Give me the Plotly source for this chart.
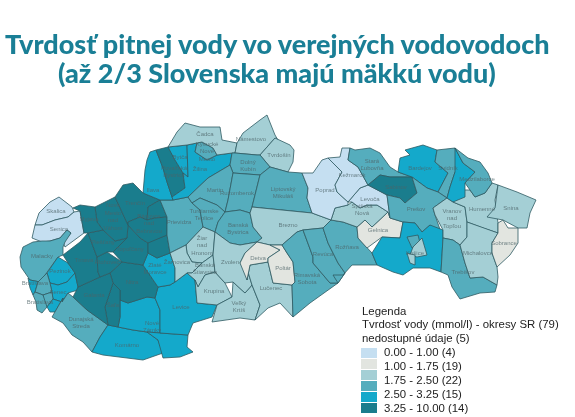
import plotly.graph_objects as go

# triedy tvrdosti: 0 = nedostupne, 1 = 0-1, 2 = 1-1.75, 3 = 1.75-2.5, 4 = 2.5-3.25, 5 = 3.25-10
FARBY = {0: '#E2E5E0', 1: '#C5DFF1', 2: '#A4CFD5', 3: '#55ADBD', 4: '#14A9CB', 5: '#1A7D8D'}
CIARA = '#2F5A62'

LEGENDA_FARBY = ['#C5DFF1', '#E2E5E0', '#A4CFD5', '#55ADBD', '#14A9CB', '#1A7D8D']
LEGENDA_TEXTY = ['0.00 - 1.00 (4)', '1.00 - 1.75 (19)', '1.75 - 2.50 (22)',
                 '2.50 - 3.25 (15)', '3.25 - 10.00 (14)']

okresy = [
    'Skalica', 'Senica', 'Malacky', 'Pezinok', 'Senec', 'Bratislava I', 'Bratislava II', 'Bratislava III',
    'Bratislava IV', 'Bratislava V', 'Dunajská Streda', 'Komárno', 'Nové Zámky', 'Štúrovo', 'Levice',
    'Nitra', 'Zlaté Moravce', 'Šaľa', 'Galanta', 'Trnava', 'Hlohovec', 'Piešťany', 'Topoľčany',
    'Partizánske', 'Nové Mesto', 'Myjava', 'Trenčín', 'Ilava', 'Bánovce', 'Prievidza', 'Púchov',
    'Považská Bystrica', 'Bytča', 'Žilina', 'Kysucké', 'Čadca', 'Námestovo', 'Tvrdošín', 'Dolný Kubín',
    'Martin', 'Turčianske Teplice', 'Ružomberok', 'Liptovský Mikuláš', 'Banská Bystrica', 'Brezno',
    'Žiar', 'Žarnovica', 'Štiavnica', 'Krupina', 'Veľký Krtíš', 'Zvolen', 'Lučenec', 'Detva', 'Poltár',
    'Rimavská Sobota', 'Revúca', 'Rožňava', 'Gelnica', 'Spišská Nová Ves', 'Levoča', 'Poprad', 'Kežmarok',
    'Stará Ľubovňa', 'Sabinov', 'Bardejov', 'Svidník', 'Prešov', 'Košice okolie', 'Košice I', 'Košice II',
    'Košice III', 'Vranov', 'Humenné', 'Stropkov', 'Medzilaborce', 'Snina', 'Trebišov', 'Michalovce', 'Sobrance',
]
triedy = [
    1, 1, 3, 4, 4, 4, 3, 3,
    3, 4, 3, 4, 4, 4, 4,
    5, 4, 5, 5, 5, 5, 5, 5,
    5, 5, 5, 5, 5, 5, 3, 4,
    5, 4, 4, 3, 2, 2, 2, 3,
    3, 3, 3, 3, 3, 2,
    2, 2, 2, 2, 2, 2, 2, 0, 0,
    3, 3, 3, 0, 2, 1, 1, 1,
    3, 5, 4, 3, 3, 4, 3, 2,
    2, 2, 2, 4, 3, 2, 3, 2, 0,
]
hranice = [
    [(59,197),(72,207),(74,212),(68,217),(55,220),(42,225),(35,225),(39,213),(50,202)],
    [(35,225),(42,225),(55,220),(68,217),(74,212),(80,211),(84,233),(75,240),(65,247),(63,242),(71,233),(67,230),(60,238),(50,241),(42,242),(32,238)],
    [(23,247),(33,242),(42,241),(50,241),(60,238),(67,230),(71,233),(65,242),(63,247),(63,255),(58,257),(47,273),(40,282),(30,280),(21,267),(20,257)],
    [(47,273),(58,257),(68,263),(75,273),(67,282),(58,285),(50,283)],
    [(50,283),(58,285),(67,282),(75,273),(78,287),(78,290),(68,293),(62,302),(53,299),(52,292)],
    [(28,278),(30,280),(40,282),(38,282),(35,292),(33,295),(30,288)],
    [(38,282),(47,273),(50,283),(52,292),(43,295),(35,292)],
    [(43,295),(52,292),(53,299),(47,307),(43,305)],
    [(36,302),(33,295),(35,292),(43,295),(47,307),(42,313),(37,310)],
    [(47,307),(53,299),(62,302),(63,298),(55,312),(50,312)],
    [(52,317),(55,312),(63,298),(62,302),(68,293),(73,297),(87,310),(108,325),(100,337),(92,352),(83,342),(72,335),(63,323)],
    [(108,325),(118,327),(133,330),(147,332),(158,340),(163,353),(143,360),(127,358),(103,355),(92,352),(100,337)],
    [(120,300),(128,303),(147,297),(155,298),(160,310),(160,333),(147,332),(133,330),(118,327),(120,317)],
    [(147,332),(160,333),(188,335),(187,347),(193,352),(180,357),(163,358),(158,340)],
    [(155,298),(158,287),(170,285),(175,282),(187,273),(195,280),(197,303),(217,305),(212,317),(193,323),(188,335),(160,333),(160,310)],
    [(110,273),(122,262),(143,265),(158,287),(155,298),(147,297),(128,303),(120,300),(120,290),(113,283)],
    [(143,265),(148,253),(157,258),(170,253),(175,268),(175,282),(170,285),(158,287)],
    [(105,307),(113,283),(120,290),(120,300),(120,317),(118,327),(108,325)],
    [(73,297),(78,287),(100,277),(110,273),(113,283),(105,307),(108,325),(87,310)],
    [(63,255),(80,242),(88,233),(97,257),(98,272),(100,277),(78,287),(75,273),(68,263)],
    [(98,272),(97,257),(107,252),(122,262),(110,273),(100,277)],
    [(88,233),(103,230),(115,241),(127,238),(113,252),(107,252),(97,257)],
    [(113,252),(127,238),(128,225),(140,238),(148,243),(148,253),(143,265),(122,262)],
    [(148,242),(167,235),(170,253),(157,258),(148,253)],
    [(95,207),(115,197),(128,225),(127,238),(115,241),(103,230),(97,222)],
    [(73,208),(80,205),(95,207),(97,222),(103,230),(88,233),(84,233),(80,211)],
    [(115,197),(123,185),(133,183),(143,193),(160,200),(148,207),(147,220),(140,217),(128,222),(128,225)],
    [(148,207),(160,200),(167,217),(155,218),(147,220)],
    [(128,222),(140,217),(147,220),(155,218),(167,217),(167,235),(148,243),(140,238),(128,225)],
    [(160,200),(173,200),(188,197),(192,203),(200,210),(203,227),(186,245),(170,253),(167,235),(167,217)],
    [(143,193),(145,170),(147,160),(150,152),(156,150),(163,168),(167,182),(172,197),(173,200),(160,200)],
    [(156,150),(168,147),(175,160),(183,173),(185,188),(172,197),(167,182),(163,168)],
    [(168,147),(187,145),(188,177),(183,173),(175,160)],
    [(187,145),(197,143),(195,152),(207,160),(217,155),(232,153),(230,165),(208,178),(188,197),(173,200),(172,197),(185,188),(183,173),(188,177)],
    [(197,143),(202,142),(213,148),(217,155),(207,160),(195,152)],
    [(168,147),(177,132),(185,123),(200,127),(220,127),(222,140),(237,143),(235,153),(232,153),(217,155),(213,148),(202,142),(197,143),(187,145)],
    [(237,143),(243,133),(260,120),(267,115),(275,135),(278,140),(275,138),(260,155),(257,155),(235,153)],
    [(260,155),(275,138),(290,145),(294,150),(293,162),(288,172),(270,167)],
    [(232,153),(235,153),(257,155),(260,155),(270,167),(260,175),(233,173),(230,165)],
    [(188,197),(208,178),(230,165),(233,173),(228,200),(225,212),(217,205),(200,198),(192,203)],
    [(192,203),(200,198),(217,205),(225,212),(218,222),(215,232),(203,227),(200,210)],
    [(233,173),(260,175),(252,207),(250,213),(240,210),(225,212),(228,200)],
    [(260,175),(270,167),(288,172),(302,173),(308,188),(307,198),(312,213),(283,210),(252,207)],
    [(218,222),(225,212),(240,210),(250,213),(253,227),(262,238),(257,242),(240,245),(230,243),(215,232)],
    [(252,207),(283,210),(312,213),(331,220),(323,228),(303,230),(297,232),(282,245),(270,245),(257,242),(262,238),(253,227),(250,213)],
    [(186,245),(203,227),(215,232),(213,255),(202,263),(192,262),(187,253)],
    [(170,253),(186,245),(187,253),(192,262),(202,263),(192,273),(187,273),(175,282),(175,268)],
    [(187,273),(192,273),(202,263),(213,255),(215,272),(205,275),(198,287),(195,280)],
    [(195,280),(198,287),(205,275),(215,272),(225,283),(232,297),(217,305),(197,303)],
    [(232,297),(233,282),(245,293),(252,285),(260,305),(255,320),(240,318),(225,320),(212,322),(217,305)],
    [(215,232),(230,243),(240,245),(257,242),(245,253),(240,263),(248,272),(252,285),(245,293),(233,282),(225,283),(215,272),(213,255)],
    [(248,272),(247,280),(250,265),(268,262),(273,283),(292,285),(293,317),(280,303),(268,308),(255,320),(260,305),(252,285)],
    [(245,253),(257,242),(270,245),(280,250),(268,258),(268,262),(250,265),(247,280),(240,263)],
    [(270,245),(282,245),(287,253),(293,262),(295,282),(292,285),(273,283),(268,262),(268,258),(280,250)],
    [(282,245),(297,232),(303,230),(313,257),(313,263),(330,283),(338,283),(310,303),(293,317),(292,285),(295,282),(293,262),(287,253)],
    [(303,230),(323,228),(328,243),(338,263),(345,273),(338,283),(330,283),(313,263),(313,257)],
    [(323,228),(331,220),(343,222),(357,227),(358,238),(367,248),(372,253),(377,265),(352,265),(343,275),(333,275),(338,283),(345,273),(338,263),(328,243)],
    [(357,227),(365,220),(372,227),(388,212),(390,218),(403,222),(400,238),(382,237),(367,248),(358,238)],
    [(331,220),(335,208),(348,205),(352,202),(360,208),(367,205),(377,205),(388,212),(372,227),(365,220),(357,227),(343,222)],
    [(348,202),(360,188),(368,185),(387,195),(390,218),(388,212),(377,205),(367,205),(360,208),(352,202)],
    [(302,173),(313,173),(322,160),(328,158),(342,172),(335,185),(337,192),(348,202),(348,205),(335,208),(331,220),(312,213),(307,198),(308,188)],
    [(328,158),(340,157),(342,148),(350,148),(348,160),(358,167),(368,185),(360,188),(348,202),(337,192),(335,185),(342,172)],
    [(348,160),(350,148),(355,150),(370,148),(380,153),(390,167),(398,172),(412,177),(390,177),(380,175),(368,185),(358,167)],
    [(368,185),(380,175),(390,177),(412,177),(417,193),(405,203),(400,198),(387,195)],
    [(398,172),(400,158),(410,155),(405,150),(423,145),(437,150),(435,162),(448,173),(438,192),(427,188),(412,177)],
    [(437,150),(455,148),(463,163),(455,172),(450,187),(447,198),(438,192),(448,173),(435,162)],
    [(387,195),(400,198),(405,203),(417,193),(412,177),(427,188),(438,192),(447,198),(433,208),(435,215),(443,238),(430,225),(422,232),(415,223),(403,222),(390,218)],
    [(372,253),(382,237),(400,238),(403,222),(415,223),(422,232),(430,225),(443,230),(443,238),(441,272),(430,268),(413,268),(403,275),(393,272),(377,265)],
    [(407,237),(418,235),(420,243),(412,248)],
    [(413,247),(422,238),(427,255),(417,257),(410,255)],
    [(407,253),(415,255),(415,265),(410,263)],
    [(433,208),(447,198),(453,202),(465,207),(467,222),(467,237),(460,245),(453,240),(443,238),(443,230),(435,215)],
    [(453,202),(465,190),(470,190),(475,197),(485,193),(492,183),(498,185),(495,200),(498,223),(498,233),(483,228),(467,222),(465,207)],
    [(455,148),(463,163),(475,172),(465,183),(465,197),(453,202),(447,198),(450,187),(455,172)],
    [(455,148),(468,158),(480,162),(488,173),(492,183),(485,193),(475,197),(470,190),(465,183),(475,172),(463,163)],
    [(498,185),(517,192),(536,200),(530,213),(527,228),(518,228),(503,220),(487,217),(495,208),(497,195)],
    [(443,238),(453,240),(460,245),(465,263),(470,278),(483,277),(497,285),(495,292),(480,293),(460,299),(452,287),(448,275),(441,272)],
    [(467,222),(483,228),(498,233),(492,243),(492,253),(497,267),(498,277),(497,285),(483,277),(470,278),(465,263),(460,245),(467,237)],
    [(498,223),(503,220),(508,228),(518,228),(518,243),(510,255),(497,267),(492,253),(492,243),(498,233)],
]

# popisy okresov v mape
popisy = ['Skalica', 'Senica', 'Malacky', 'Pezinok', 'Senec', 'Bratislava', 'Bratislava', 'Myjava',
          'Nové<br>Mesto<br>nad<br>Váhom', 'Trenčín', 'Bánovce<br>nad<br>Bebravou', 'Prievidza', 'Piešťany',
          'Topoľčany', 'Trnava', 'Hlohovec', 'Zlaté<br>Moravce', 'Nitra', 'Galanta', 'Šaľa', 'Levice',
          'Nové<br>Zámky', 'Dunajská<br>Streda', 'Komárno', 'Čadca', 'Kysucké<br>Nové<br>Mesto', 'Bytča', 'Žilina',
          'Považská<br>Bystrica', 'Ilava', 'Martin', 'Dolný<br>Kubín', 'Námestovo', 'Tvrdošín', 'Ružomberok',
          'Liptovský<br>Mikuláš', 'Turčianske<br>Teplice', 'Banská<br>Bystrica', 'Brezno', 'Žiar<br>nad<br>Hronom',
          'Žarnovica', 'Banská<br>Štiavnica', 'Zvolen', 'Detva', 'Poltár', 'Krupina', 'Veľký<br>Krtíš', 'Lučenec',
          'Rimavská<br>Sobota', 'Revúca', 'Rožňava', 'Poprad', 'Kežmarok', 'Levoča', 'Spišská<br>Nová', 'Gelnica',
          'Stará<br>Ľubovňa', 'Sabinov', 'Bardejov', 'Svidník', 'Medzilaborce', 'Prešov', 'Vranov<br>nad<br>Topľou',
          'Humenné', 'Snina', 'Sobrance', 'Michalovce', 'Trebišov', 'Košice']
popisy_x = [56, 59, 42, 60, 58, 35, 40, 89, 113, 135, 149, 179, 103, 130, 84, 107, 155, 132, 94, 113, 181,
            152, 81, 127, 205, 207, 180, 200, 174, 153, 215, 248, 251, 279, 237, 283, 204, 238, 288, 202,
            177, 205, 230, 258, 283, 214, 239, 271, 307, 323, 347, 325, 352, 370, 362, 378, 372, 396, 420,
            448, 477, 416, 452, 482, 511, 504, 478, 463, 415]
popisy_y = [211, 229, 256, 271, 292, 283, 302, 219, 217, 203, 224, 222, 242, 249, 260, 262, 269, 282, 295,
            305, 307, 327, 323, 345, 134, 152, 157, 169, 172, 190, 190, 166, 139, 155, 193, 193, 215, 229,
            225, 246, 262, 269, 262, 258, 268, 291, 307, 288, 279, 254, 247, 190, 175, 199, 210, 230, 165,
            187, 168, 168, 179, 209, 219, 209, 208, 243, 253, 272, 253]

fig = go.Figure()

for okres, trieda, body in zip(okresy, triedy, hranice):
    x = [b[0] for b in body] + [body[0][0]]
    y = [b[1] for b in body] + [body[0][1]]
    fig.add_trace(go.Scatter(x=x, y=y, mode='lines', fill='toself', fillcolor=FARBY[trieda],
                             line=dict(color=CIARA, width=0.8), name=okres, hoverinfo='name'))

fig.add_trace(go.Scatter(x=popisy_x, y=popisy_y, mode='text', text=popisy, hoverinfo='skip', opacity=0.75,
                         textfont=dict(family='Liberation Sans', size=6, color='#4E6468')))

# legenda
for i, farba in enumerate(LEGENDA_FARBY):
    fig.add_shape(type='rect', x0=361, x1=377, y0=348 + i * 11, y1=358 + i * 11,
                  fillcolor=farba, line_width=0, layer='below')

def legend_text(x, y, text):
    fig.add_annotation(x=x, y=y, text=text, showarrow=False, xanchor='left', yanchor='middle',
                       font=dict(family='Liberation Sans', size=11.4, color='#222222'))

legend_text(360, 311, 'Legenda')
legend_text(360, 324, 'Tvrdosť vody (mmol/l) - okresy SR (79)')
legend_text(360, 338, 'nedostupné údaje (5)')
for i, text in enumerate(LEGENDA_TEXTY):
    legend_text(382, 352 + i * 14, text)

for y, text in [(43, 'Tvrdosť pitnej vody vo verejných vodovodoch'),
                (72, '(až 2/3 Slovenska majú mäkkú vodu)')]:
    fig.add_annotation(x=277, y=y, text=text, showarrow=False,
                       font=dict(family='Lato', size=27, color='#1A7F96', weight=900))

fig.update_xaxes(range=[0, 575], visible=False)
fig.update_yaxes(range=[417, 0], visible=False)
fig.update_layout(width=575, height=417, margin=dict(l=0, r=0, t=0, b=0), showlegend=False,
                  plot_bgcolor='white', paper_bgcolor='white')

fig.write_html("out.html", config=dict(displayModeBar=False), post_script="document.body.style.margin='0';")
